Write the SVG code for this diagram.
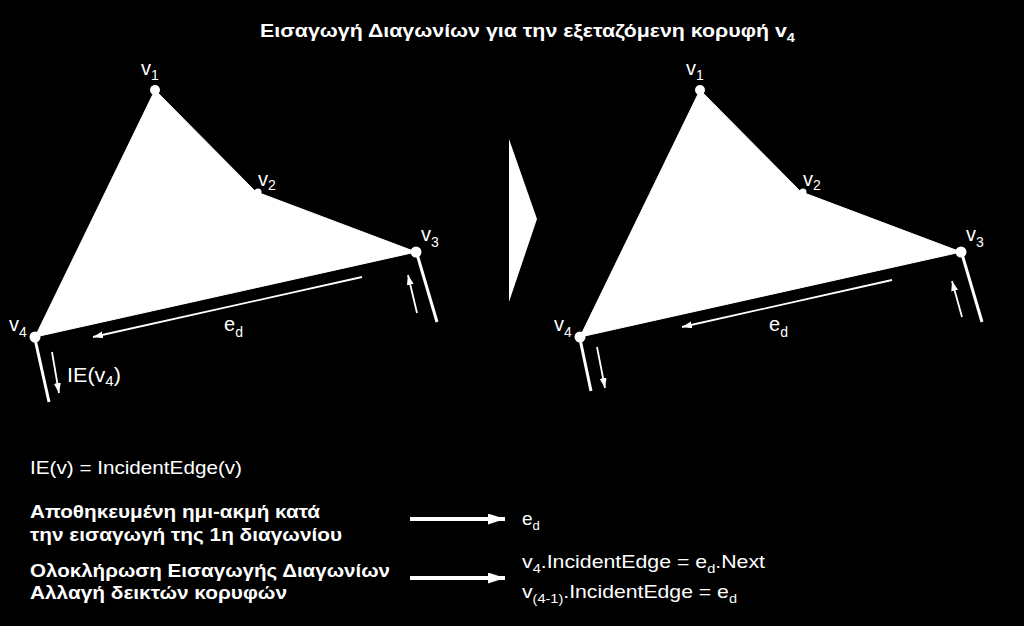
<svg xmlns="http://www.w3.org/2000/svg" width="1024" height="626" viewBox="0 0 1024 626">
<defs>
<style>
text{font-family:"Liberation Sans",Arial,"DejaVu Sans",sans-serif;fill:#fff}
.t{font-weight:bold;font-size:19px}
.lbl{font-size:20px}
.leg{font-size:19px}
.legb{font-size:19px;font-weight:bold}
.fill{fill:#fff;stroke:#fff;stroke-width:1;stroke-linejoin:round}
.he{stroke:#fff;stroke-width:3;fill:none}
.thin{stroke:#fff;stroke-width:1.8;fill:none;marker-end:url(#ah)}
.big{stroke:#fff;stroke-width:4;fill:none;marker-end:url(#bh)}
.dot{fill:#fff}
</style>
<marker id="ah" markerUnits="userSpaceOnUse" markerWidth="11" markerHeight="8" refX="10" refY="3.5" orient="auto">
<path d="M0,0 L10,3.5 L0,7 z" fill="#fff"/>
</marker>
<marker id="bh" markerUnits="userSpaceOnUse" markerWidth="18" markerHeight="12" refX="17" refY="5.5" orient="auto">
<path d="M0,0 L17,5.5 L0,11 z" fill="#fff"/>
</marker>
</defs>
<rect x="0" y="0" width="1024" height="626" fill="#000"/>

<g id="title">
<text class="t" x="260" y="37" textLength="535" lengthAdjust="spacingAndGlyphs">Εισαγωγή Διαγωνίων για την εξεταζόμενη κορυφή v<tspan dy="5" font-size="13">4</tspan></text>
</g>

<g id="left-polygon">
<polygon class="fill" points="155,90 255,191 262,194 416,252 35,337"/>
<circle class="dot" cx="155" cy="90" r="5"/>
<circle class="dot" cx="258" cy="192" r="3.5"/>
<circle class="dot" cx="416" cy="252" r="5.5"/>
<circle class="dot" cx="35" cy="337" r="5.5"/>
<line class="he" x1="35" y1="339" x2="49" y2="402"/>
<line class="he" x1="417" y1="254" x2="437" y2="322"/>
<text class="lbl" x="141" y="75">v<tspan dy="5" font-size="14">1</tspan></text>
<text class="lbl" x="258" y="186">v<tspan dy="4" font-size="14">2</tspan></text>
<text class="lbl" x="421" y="241">v<tspan dy="6" font-size="14">3</tspan></text>
<text class="lbl" x="9" y="331">v<tspan dy="6" font-size="14">4</tspan></text>
<text class="lbl" x="224" y="331">e<tspan dy="6" font-size="14">d</tspan></text>
<text class="lbl" x="67" y="382" textLength="54" lengthAdjust="spacingAndGlyphs">IE(v<tspan dy="4" font-size="14">4</tspan><tspan dy="-4">)</tspan></text>
</g>

<g id="transition-arrow">
<polygon points="509,139 537,219 509,302" fill="#fff"/>
</g>

<g id="right-polygon">
<polygon class="fill" points="700,90 800,191 807,194 961,252 580,337"/>
<circle class="dot" cx="700" cy="90" r="5"/>
<circle class="dot" cx="803" cy="192" r="3.5"/>
<circle class="dot" cx="961" cy="252" r="5.5"/>
<circle class="dot" cx="580" cy="337" r="5.5"/>
<line class="he" x1="580" y1="339" x2="591" y2="391"/>
<line class="he" x1="962" y1="254" x2="982" y2="322"/>
<text class="lbl" x="686" y="75">v<tspan dy="5" font-size="14">1</tspan></text>
<text class="lbl" x="803" y="186">v<tspan dy="4" font-size="14">2</tspan></text>
<text class="lbl" x="966" y="241">v<tspan dy="6" font-size="14">3</tspan></text>
<text class="lbl" x="554" y="331">v<tspan dy="6" font-size="14">4</tspan></text>
<text class="lbl" x="769" y="331">e<tspan dy="6" font-size="14">d</tspan></text>
</g>

<g id="connectors">
<line class="thin" x1="362" y1="277" x2="93" y2="337"/>
<line class="thin" x1="52" y1="352" x2="59" y2="393"/>
<line class="thin" x1="417" y1="313" x2="408" y2="275"/>
<line class="thin" x1="892" y1="280" x2="682" y2="327"/>
<line class="thin" x1="597" y1="347" x2="605" y2="388"/>
<line class="thin" x1="962" y1="317" x2="952" y2="281"/>
<line class="big" x1="410" y1="519" x2="505" y2="519"/>
<line class="big" x1="410" y1="578" x2="505" y2="578"/>
</g>

<g id="legend">
<text class="leg" x="30" y="474" textLength="212" lengthAdjust="spacingAndGlyphs">IE(v) = IncidentEdge(v)</text>
<text class="legb" x="30" y="518" textLength="290" lengthAdjust="spacingAndGlyphs">Αποθηκευμένη ημι-ακμή κατά</text>
<text class="legb" x="30" y="541" textLength="312" lengthAdjust="spacingAndGlyphs">την εισαγωγή της 1η διαγωνίου</text>
<text class="legb" x="30" y="577" textLength="360" lengthAdjust="spacingAndGlyphs">Ολοκλήρωση Εισαγωγής Διαγωνίων</text>
<text class="legb" x="30" y="599" textLength="257" lengthAdjust="spacingAndGlyphs">Αλλαγή δεικτών κορυφών</text>
<text class="leg" x="522" y="525">e<tspan dy="5" font-size="13">d</tspan></text>
<text class="leg" x="522" y="568" textLength="243" lengthAdjust="spacingAndGlyphs">v<tspan dy="5" font-size="13">4</tspan><tspan dy="-5">.IncidentEdge = e</tspan><tspan dy="5" font-size="13">d</tspan><tspan dy="-5">.Next</tspan></text>
<text class="leg" x="522" y="598" textLength="215" lengthAdjust="spacingAndGlyphs">v<tspan dy="5" font-size="13">(4-1)</tspan><tspan dy="-5">.IncidentEdge = e</tspan><tspan dy="5" font-size="13">d</tspan></text>
</g>
</svg>
